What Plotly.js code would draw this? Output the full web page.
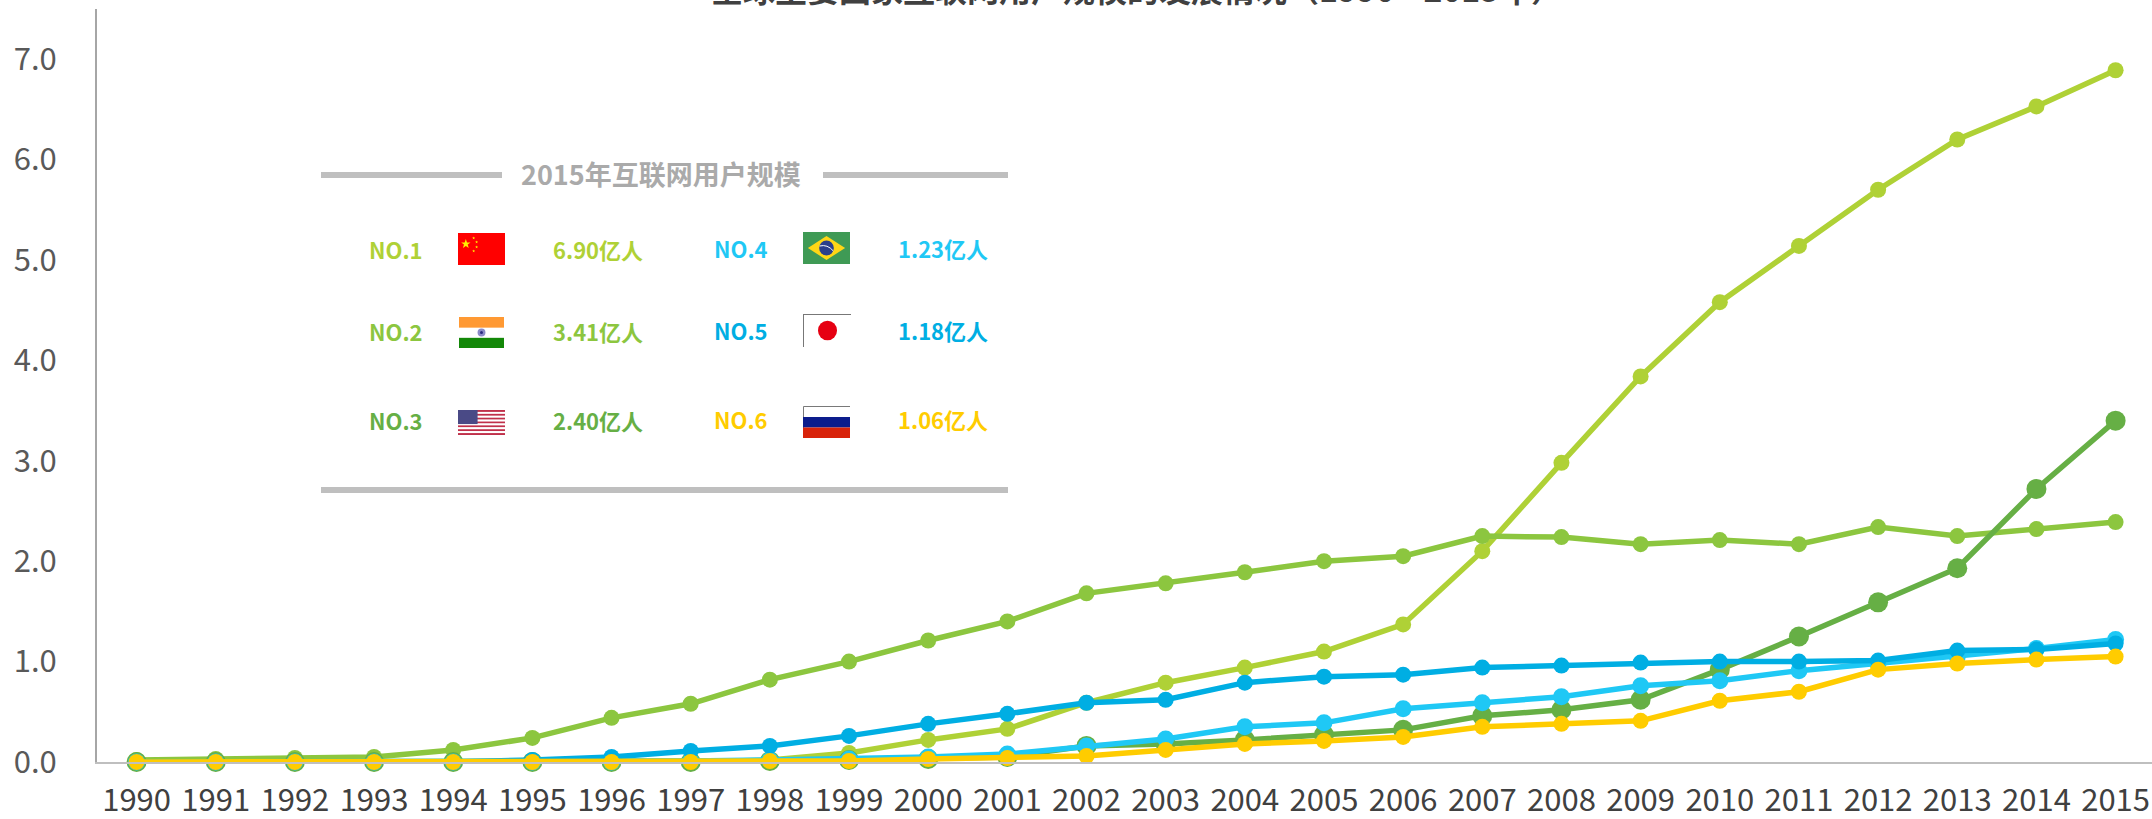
<!DOCTYPE html>
<html><head><meta charset="utf-8">
<script src="https://cdn.plot.ly/plotly-3.0.1.min.js"></script>
<style>html,body{margin:0;padding:0;background:#fff;overflow:hidden}</style></head>
<body><div id="c" style="width:2152px;height:819px"></div>
<script>
const years=[1990,1991,1992,1993,1994,1995,1996,1997,1998,1999,2000,2001,2002,2003,2004,2005,2006,2007,2008,2009,2010,2011,2012,2013,2014,2015];
const china=[0,0,0,0,0,0,0,0,0.02,0.09,0.22,0.33,0.59,0.79,0.94,1.1,1.37,2.1,2.98,3.84,4.58,5.14,5.7,6.2,6.53,6.89];
const usa=[0.02,0.03,0.04,0.05,0.12,0.24,0.44,0.58,0.82,1.0,1.21,1.4,1.68,1.78,1.89,2.0,2.05,2.25,2.24,2.17,2.21,2.17,2.34,2.25,2.32,2.39];
const india=[0,0,0,0,0,0,0,0,0.01,0.02,0.03,0.05,0.16,0.18,0.22,0.27,0.32,0.46,0.52,0.62,0.92,1.25,1.59,1.93,2.72,3.4];
const brazil=[0,0,0,0,0,0,0,0.01,0.02,0.03,0.05,0.08,0.16,0.23,0.35,0.39,0.53,0.59,0.65,0.76,0.81,0.91,0.98,1.05,1.13,1.22];
const japan=[0,0,0,0,0,0.02,0.05,0.11,0.16,0.26,0.38,0.48,0.59,0.62,0.79,0.85,0.87,0.94,0.96,0.99,1.0,1.0,1.01,1.11,1.12,1.18];
const russia=[0,0,0,0,0,0,0,0,0.01,0.01,0.03,0.04,0.06,0.12,0.18,0.21,0.25,0.35,0.38,0.41,0.61,0.7,0.92,0.98,1.02,1.05];
const seriesNames=['中国','美国','印度','巴西','日本','俄罗斯'];
const seriesVals=[china,usa,india,brazil,japan,russia];
const seriesColors=['#AFD136','#8CC63F','#66AF45','#1FC8F5','#00AEE3','#FFCC00'];
const markerSizes=[16,16,20,17,16,16];
const ranks=['NO.1','NO.2','NO.3','NO.4','NO.5','NO.6'];
const users=['6.90亿人','3.41亿人','2.40亿人','1.23亿人','1.18亿人','1.06亿人'];
const panelTitle='2015年互联网用户规模';
const chartTitle='全球主要国家互联网用户规模的发展情况（1990—2015年）';
const W=2152,H=819;
const svg=s=>'data:image/svg+xml;utf8,'+encodeURIComponent(s);
const wrap=(b)=>`<svg xmlns="http://www.w3.org/2000/svg" width="48" height="32" viewBox="0 0 48 32" preserveAspectRatio="none">${b}</svg>`;
const star=(cx,cy,r,f)=>{let p=[];for(let i=0;i<10;i++){const a=-Math.PI/2+i*Math.PI/5,q=i%2?r*0.4:r;p.push((cx+q*Math.cos(a)).toFixed(2)+','+(cy+q*Math.sin(a)).toFixed(2));}return `<polygon points="${p.join(' ')}" fill="${f}"/>`;};
let stripes='';for(let i=0;i<13;i++)stripes+=`<rect y="${i*32/13}" width="48" height="${32/13+0.05}" fill="${i%2?'#fff':'#C0304A'}"/>`;
const flags=[
 wrap(`<rect width="48" height="32" fill="#FF0000"/>${star(8,11,5,'#FFEE00')}${star(16,5,1.6,'#FFEE00')}${star(19,9,1.6,'#FFEE00')}${star(19,14,1.6,'#FFEE00')}${star(16,18,1.6,'#FFEE00')}`),
 wrap(`<rect width="48" height="32" fill="#fff"/><rect width="48" height="11" fill="#FF9933"/><rect y="21.5" width="48" height="10.5" fill="#138808"/><circle cx="24" cy="16" r="4.2" fill="#8B8BC8"/><circle cx="24" cy="16" r="1.6" fill="#2A2A80"/>`),
 wrap(`${stripes}<rect width="20" height="18" fill="#4A4A86"/>`),
 wrap(`<rect width="48" height="32" fill="#3F9A55"/><polygon points="24,4 43,16 24,28 5,16" fill="#FFD616"/><circle cx="24" cy="16" r="7.5" fill="#2A3F8C"/><path d="M17 14 Q25 12 31 19" stroke="#fff" stroke-width="1" fill="none"/>`),
 wrap(`<rect width="48" height="32" fill="#fff"/><path d="M48 .5H.5V32" stroke="#777" stroke-width="1" fill="none"/><ellipse cx="24.5" cy="16" rx="9.5" ry="9.5" fill="#E60012"/>`),
 wrap(`<rect width="48" height="32" fill="#fff"/><path d="M48 .5H.5V32" stroke="#777" stroke-width="1" fill="none"/><rect y="11" width="48" height="10.5" fill="#0C1C8C"/><rect y="21.5" width="48" height="10.5" fill="#D8230A"/>`)
];
const ml=97,mr=0,mt=9,mb=57;
const PW=W-ml-mr,PH=H-mt-mb;
const px=x=>(x-ml)/PW, py=y=>1-(y-mt)/PH;
const fam='"Noto Sans CJK SC","Noto Sans",sans-serif';
const traces=seriesVals.map((v,i)=>({type:'scatter',mode:'lines+markers',x:years,y:v,name:seriesNames[i],
  line:{color:seriesColors[i],width:5.5},marker:{color:seriesColors[i],size:markerSizes[i]},cliponaxis:false}));
const ann=[];const imgs=[];
const textY=[249,331,420,248,330,419], rankX=[396,396,396,741,741,741], valX=[598,598,598,943,943,943];
const flagBox=[[458,233,47,32],[459,317,45,31],[458,410,47,25],[803,232,47,32],[803,314,48,33],[803,406,47,32]];
for(let i=0;i<6;i++){
 ann.push({xref:'paper',yref:'paper',x:px(rankX[i]),y:py(textY[i]),text:'<b>'+ranks[i]+'</b>',showarrow:false,xanchor:'center',yanchor:'middle',font:{family:fam,size:22,color:seriesColors[i]}});
 ann.push({xref:'paper',yref:'paper',x:px(valX[i]),y:py(textY[i]),text:'<b>'+users[i]+'</b>',showarrow:false,xanchor:'center',yanchor:'middle',font:{family:fam,size:22,color:seriesColors[i]}});
 const b=flagBox[i];
 imgs.push({source:svg(flags[i]),xref:'paper',yref:'paper',x:px(b[0]),y:py(b[1]),sizex:b[2]/PW,sizey:b[3]/PH,sizing:'stretch',xanchor:'left',yanchor:'top',layer:'above'});
}
ann.push({xref:'paper',yref:'paper',x:px(661),y:py(173),text:'<b>'+panelTitle+'</b>',showarrow:false,xanchor:'center',yanchor:'middle',font:{family:fam,size:27,color:'#AAAAAA'}});
ann.push({xref:'paper',yref:'paper',x:px(1137),y:py(-12),text:'<b>'+chartTitle+'</b>',showarrow:false,xanchor:'center',yanchor:'middle',font:{family:fam,size:32,color:'#404040'}});
const shapes=[[321,502,175],[823,1008,175],[321,1008,490]].map(a=>({type:'line',xref:'paper',yref:'paper',x0:px(a[0]),x1:px(a[1]),y0:py(a[2]),y1:py(a[2]),line:{color:'#BFBFBF',width:6}}));
Plotly.newPlot('c',traces,{
 width:W,height:H,showlegend:false,paper_bgcolor:'#fff',plot_bgcolor:'#fff',
 margin:{l:ml,r:mr,t:mt,b:mb,pad:0},
 xaxis:{type:'linear',range:[1989.5,2015.46],tickvals:years,ticktext:years.map(String),showgrid:false,zeroline:false,showline:true,linecolor:'#BFBFBF',linewidth:2,ticks:'',tickfont:{family:fam,size:31,color:'#404040'},ticklabelstandoff:10},
 yaxis:{range:[0,7.5],tickvals:[0,1,2,3,4,5,6,7],ticktext:['0.0','1.0','2.0','3.0','4.0','5.0','6.0','7.0'],showgrid:false,zeroline:false,showline:true,linecolor:'#A6A6A6',linewidth:2,ticks:'',tickfont:{family:fam,size:31,color:'#595959'},ticklabelstandoff:32},
 annotations:ann,images:imgs,shapes:shapes
},{displayModeBar:false,staticPlot:true});
</script></body></html>
